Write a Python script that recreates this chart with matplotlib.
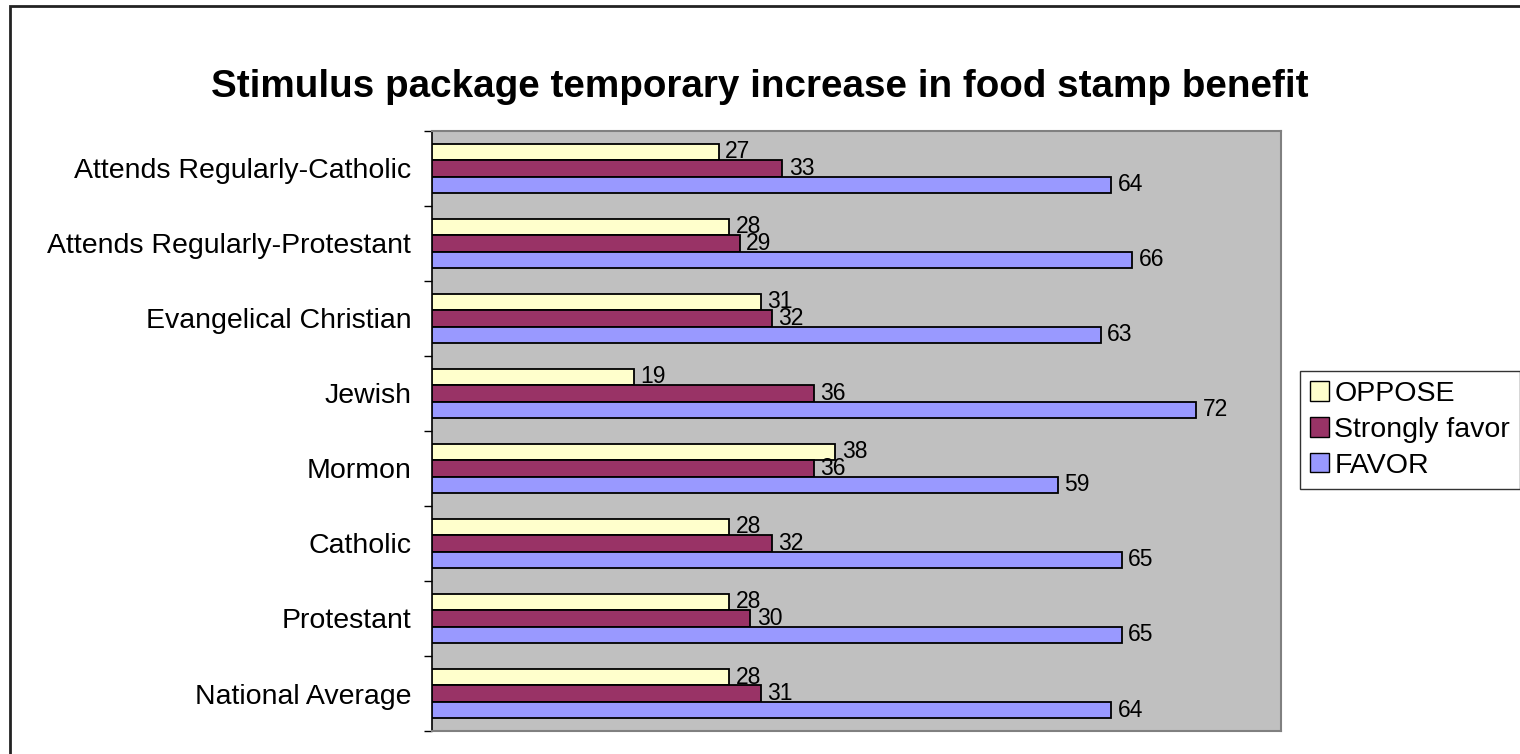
import matplotlib.pyplot as plt
import matplotlib.patches as patches
import numpy as np

plt.rcParams['font.family'] = ['Liberation Sans', 'DejaVu Sans']

# Categories listed bottom to top (Excel draws the first category at the bottom)
categories = ['National Average', 'Protestant', 'Catholic', 'Mormon', 'Jewish',
              'Evangelical Christian', 'Attends Regularly-Protestant',
              'Attends Regularly-Catholic']
favor = [64, 65, 65, 59, 72, 63, 66, 64]
strongly_favor = [31, 30, 32, 36, 36, 32, 29, 33]
oppose = [28, 28, 28, 38, 19, 31, 28, 27]

series_names = ['OPPOSE', 'Strongly favor', 'FAVOR']
series_colors = {'OPPOSE': '#FFFFCC', 'Strongly favor': '#993366', 'FAVOR': '#9999FF'}

fig = plt.figure(figsize=(15.2, 7.54), dpi=100)
ax = fig.add_axes([0.2842, 0.0305, 0.5586, 0.7958])
ax.set_facecolor('#C0C0C0')

y = np.arange(len(categories))
bar_h = 0.22
# top to bottom within each group: OPPOSE, Strongly favor, FAVOR
offsets = {'OPPOSE': bar_h, 'Strongly favor': 0.0, 'FAVOR': -bar_h}
values = {'OPPOSE': oppose, 'Strongly favor': strongly_favor, 'FAVOR': favor}

for name in series_names:
    bars = ax.barh(y + offsets[name], values[name], height=bar_h,
                   color=series_colors[name], edgecolor='black', linewidth=1.3,
                   label=name, zorder=3)
    for b, v in zip(bars, values[name]):
        ax.text(b.get_width() + 0.6, b.get_y() + b.get_height() / 2, str(v),
                ha='left', va='center', fontsize=16.5, color='black', zorder=4)

ax.set_xlim(0, 80)
ax.set_ylim(-0.5, len(categories) - 0.5)
ax.set_xticks([])
ax.set_yticks(y)
ax.set_yticklabels(categories, fontsize=20.5)
ax.set_yticks(np.arange(len(categories) + 1) - 0.5, minor=True)
ax.tick_params(axis='y', which='major', length=0, pad=15)
ax.tick_params(axis='y', which='minor', length=6, width=1, direction='out')

for side in ['top', 'right', 'bottom']:
    ax.spines[side].set_color('#808080')
    ax.spines[side].set_linewidth(1.5)
ax.spines['left'].set_color('black')
ax.spines['left'].set_linewidth(1.2)

fig.suptitle('Stimulus package temporary increase in food stamp benefit',
             fontsize=27.8, fontweight='bold', x=0.5, y=0.885, va='center')

handles = [patches.Patch(facecolor=series_colors[n], edgecolor='black', label=n)
           for n in series_names]
fig.legend(handles=handles, loc='upper left', bbox_to_anchor=(1300 / 1520, 1 - 371 / 754),
           fontsize=20.5, frameon=True, fancybox=False, edgecolor='black',
           handlelength=0.66, handleheight=0.66, handletextpad=0.2,
           borderpad=0.35, labelspacing=0.35, borderaxespad=0)

# outer chart frame
frame = patches.Rectangle((10 / 1520, -0.05), 1.2, 1 - 6 / 754 + 0.05,
                          transform=fig.transFigure, fill=False,
                          edgecolor='#222222', linewidth=2)
fig.add_artist(frame)

plt.savefig('out.png', dpi=100)
